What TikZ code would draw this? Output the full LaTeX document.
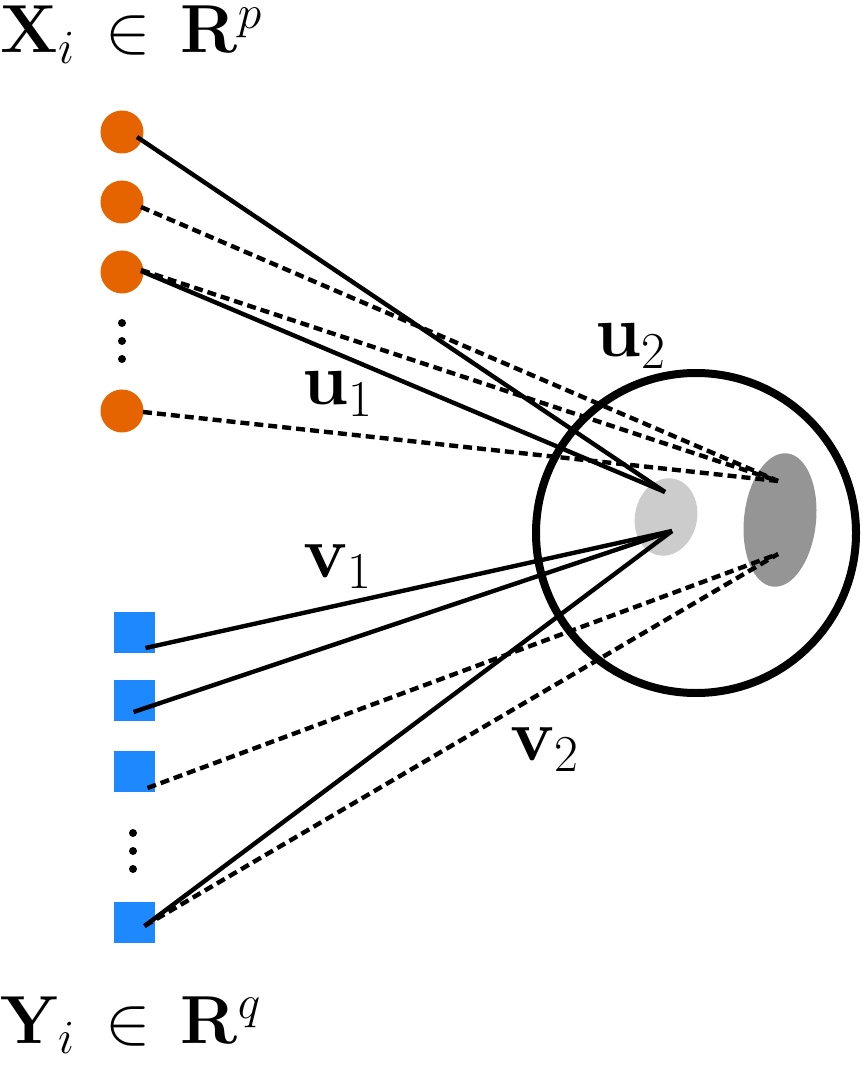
\documentclass[tikz,border=0pt]{standalone}
\usepackage{fix-cm}
\usepackage{xcolor}
\usepackage{tikz}

\definecolor{XOrange}{HTML}{E66400}
\definecolor{YBlue}{HTML}{1E88FF}
\definecolor{LoGray}{HTML}{CCCCCC}
\definecolor{HiGray}{HTML}{959595}

\tikzset{
  xdot/.style={circle,fill=XOrange,inner sep=0pt,minimum size=21.5pt},
  ybox/.style={rectangle,fill=YBlue,inner sep=0pt,minimum size=20.5pt},
  vdot/.style={circle,fill=black,inner sep=0pt,minimum size=4pt},
  link/.style={line width=2.2pt},
  dlink/.style={line width=2.2pt,dash pattern=on 4.5pt off 2.5pt},
  lbl/.style={anchor=base west,inner sep=0pt,font=\fontsize{37}{44}\selectfont},
  ttl/.style={anchor=base west,inner sep=0pt,font=\fontsize{34}{40}\selectfont},
}

\begin{document}
\begin{tikzpicture}[x=0.5pt,y=-0.5pt]
  \useasboundingbox (0,0) rectangle (862,1068);

  % Titles
  \node[ttl] (xtitle) at (0,53) {$\mathbf{X}_i \,\in\, \mathbf{R}^p$};
  \node[ttl] (ytitle) at (0,1043) {$\mathbf{Y}_i \,\in\, \mathbf{R}^q$};

  % Big circle and the two discs
  \draw[line width=4pt] (696,533) circle [radius=160];
  \fill[LoGray,rotate around={-12:(666,517)}] (666,517) ellipse [x radius=31,y radius=39];
  \fill[HiGray,rotate around={-6:(780,520)}] (780,520) ellipse [x radius=36,y radius=67];

  \coordinate (a1) at (665,492);
  \coordinate (a2) at (672,531);
  \coordinate (b1) at (778,481);
  \coordinate (b2) at (778,554);

  % X side
  \node[xdot] (x1) at (122,132) {};
  \node[xdot] (x2) at (122,202) {};
  \node[xdot] (x3) at (122,272) {};
  \node[vdot] (xd1) at (122,323) {};
  \node[vdot] (xd2) at (122,341) {};
  \node[vdot] (xd3) at (122,359) {};
  \node[xdot] (x5) at (122,411) {};

  % Y side
  \node[ybox] (y1) at (134.5,632) {};
  \node[ybox] (y2) at (134.5,700) {};
  \node[ybox] (y3) at (134.5,771) {};
  \node[vdot] (yd1) at (133,833) {};
  \node[vdot] (yd2) at (133,851) {};
  \node[vdot] (yd3) at (133,869) {};
  \node[ybox] (y5) at (134.5,922) {};

  % u1 links
  \draw[link] ([shift={(15,5)}]x1.center) -- (a1);
  \draw[link] ([shift={(19,-1)}]x3.center) -- (a1);

  % u2 links
  \draw[dlink] ([shift={(19,5)}]x2.center) -- (b1);
  \draw[dlink] ([shift={(19,-2)}]x3.center) -- (b1);
  \draw[dlink] ([shift={(21,1)}]x5.center) -- (b1);

  % v1 links
  \draw[link] ([shift={(11,16)}]y1.center) -- (a2);
  \draw[link] ([shift={(-1,12)}]y2.center) -- (a2);
  \draw[link] ([shift={(10,4)}]y5.center) -- (a2);

  % v2 links
  \draw[dlink] ([shift={(13,17)}]y3.center) -- (b2);
  \draw[dlink] ([shift={(10,4)}]y5.center) -- (b2);

  % Labels
  \node[lbl] (u1) at (302,405) {$\mathbf{u}_1$};
  \node[lbl] (u2) at (595,357) {$\mathbf{u}_2$};
  \node[lbl] (v1) at (303,577) {$\mathbf{v}_1$};
  \node[lbl] (v2) at (510,760) {$\mathbf{v}_2$};
\end{tikzpicture}
\end{document}
